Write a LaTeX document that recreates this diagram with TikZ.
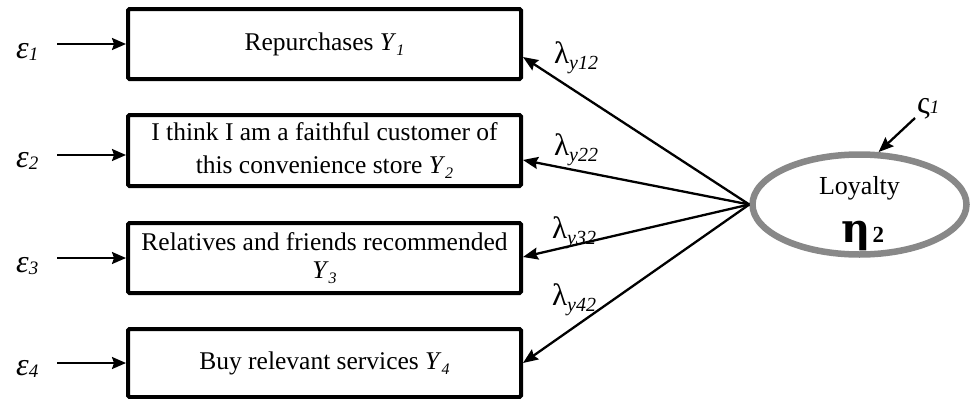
\documentclass[tikz,border=0pt]{standalone}
\usepackage{fontspec}
\setmainfont{Liberation Serif}
\newfontfamily\etafont{DejaVu Serif}
\usetikzlibrary{arrows.meta,shapes.geometric}
\definecolor{ringgray}{HTML}{888888}
% italic lowered index, e.g. Y_1
\newcommand{\isub}[1]{\raisebox{-0.22em}{\fontsize{16}{16}\selectfont\itshape #1}}
% loading label lambda_{y..}
\newcommand{\lamlab}[1]{λ\raisebox{-0.2em}{\fontsize{20}{20}\selectfont\itshape #1}}
% error label epsilon_i
\newcommand{\epslab}[1]{ε\raisebox{-0.08em}{\fontsize{19}{19}\selectfont\itshape #1}}
\begin{document}
\begin{tikzpicture}[x=1pt,y=-1pt,
  box/.style={draw,line width=4pt,rounded corners=1.5pt,minimum width=393pt,
    minimum height=70pt,inner sep=0pt,align=center,
    font=\fontsize{25.5}{30}\selectfont},
  epsarrow/.style={line width=2pt,-{Stealth[length=14pt,width=12pt,inset=2pt]}},
  lamarrow/.style={line width=2.3pt,-{Stealth[length=15pt,width=12pt,inset=2pt]}},
  epsname/.style={anchor=base west,inner sep=0pt,font=\fontsize{32}{32}\selectfont\itshape},
  lamname/.style={anchor=base west,inner sep=0pt,font=\fontsize{31}{31}\selectfont},
]
\useasboundingbox (0,0) rectangle (975,399);

% observed indicators
\node[box] (y1) at (324.5,44) {Repurchases \textit{Y}\isub{1}};
\node[box,minimum height=71pt,font=\fontsize{25.5}{33}\selectfont] (y2) at (324.5,150.5)
  {I think I am a faithful customer of\\this convenience store \textit{Y}\isub{2}};
\node[box,font=\fontsize{25.5}{28}\selectfont] (y3) at (324.5,258)
  {Relatives and friends recommended\\\textit{Y}\isub{3}};
\node[box,minimum height=68pt] (y4) at (324.5,363) {Buy relevant services \textit{Y}\isub{4}};

% error terms
\node[epsname] (e1) at (16,58) {\epslab{1}};
\node[epsname] (e2) at (16,167) {\epslab{2}};
\node[epsname] (e3) at (16,272) {\epslab{3}};
\node[epsname] (e4) at (16,375) {\epslab{4}};
\draw[epsarrow] ([xshift=-69pt]y1.west) -- (y1.west);
\draw[epsarrow] ([xshift=-69pt,yshift=-4.5pt]y2.west) -- ([yshift=-4.5pt]y2.west);
\draw[epsarrow] ([xshift=-69pt]y3.west) -- (y3.west);
\draw[epsarrow] ([xshift=-69pt]y4.west) -- (y4.west);

% latent variable
\node[ellipse,draw=ringgray,line width=6.5pt,minimum width=214pt,minimum height=100pt,
  inner sep=0pt] (eta) at (859.5,204.5) {};
\node[anchor=base,inner sep=0pt,font=\fontsize{26}{26}\selectfont] (loy) at (859.5,194) {Loyalty};
\node[anchor=base,inner sep=0pt] (etaname) at (863,242)
  {{\etafont\bfseries\fontsize{40}{40}\selectfont η}\,{\bfseries\fontsize{23}{23}\selectfont 2}};

% disturbance
\node[anchor=base west,inner sep=0pt,font=\fontsize{32}{32}\selectfont] (zeta) at (917,113)
  {ς{\fontsize{19}{19}\selectfont\itshape 1}};
\coordinate (zs) at (915,118);
\draw[lamarrow] (zs) -- (eta.70);

% loadings
\draw[lamarrow] (eta.west) -- ([yshift=-13pt]y1.east);
\draw[lamarrow] (eta.west) -- ([yshift=-9.5pt]y2.east);
\draw[lamarrow] (eta.west) -- ([yshift=1pt]y3.east);
\draw[lamarrow] (eta.west) -- (y4.east);
\node[lamname] (l1) at (554,63) {\lamlab{y12}};
\node[lamname] (l2) at (554,155) {\lamlab{y22}};
\node[lamname] (l3) at (552,238) {\lamlab{y32}};
\node[lamname] (l4) at (552,305) {\lamlab{y42}};
\end{tikzpicture}
\end{document}
